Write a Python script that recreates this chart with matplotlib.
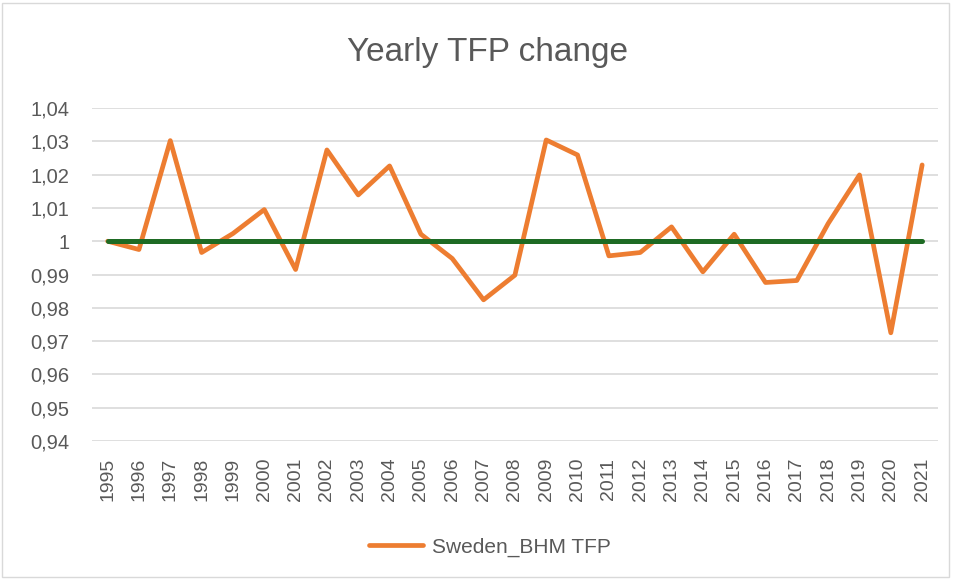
import matplotlib
matplotlib.use("Agg")
import matplotlib.pyplot as plt
from matplotlib.patches import Rectangle
from matplotlib.ticker import FixedLocator, FuncFormatter

years = [str(y) for y in range(1995, 2022)]
tfp = [1.0000, 0.9975, 1.0302, 0.9966, 1.0023, 1.0095, 0.9915, 1.0274, 1.0139,
       1.0226, 1.0021, 0.9948, 0.9824, 0.9898, 1.0304, 1.0259, 0.9956, 0.9966,
       1.0043, 0.9908, 1.0021, 0.9876, 0.9882, 1.0053, 1.0199, 0.9725, 1.0229]
baseline = [1.0] * len(years)
yticks = [0.94, 0.95, 0.96, 0.97, 0.98, 0.99, 1.00, 1.01, 1.02, 1.03, 1.04]

plt.rcParams['font.family'] = ['Liberation Sans', 'DejaVu Sans']
grey = '#595959'

fig = plt.figure(figsize=(9.55, 5.79), dpi=100)
ax = fig.add_axes([0.0963, 0.2383, 0.8857, 0.5752])

x = list(range(len(years)))
ax.plot(x, tfp, color='#ED7D31', lw=3.4, solid_joinstyle='round',
        solid_capstyle='round', label='Sweden_BHM TFP', zorder=3)
ax.plot(x, baseline, color='#1E6B24', lw=3.6, solid_capstyle='round', zorder=4)

ax.set_xlim(-0.5, len(years) - 0.5)
ax.set_ylim(0.94, 1.04)
ax.yaxis.set_major_locator(FixedLocator(yticks))
ax.yaxis.set_major_formatter(FuncFormatter(
    lambda v, p: ('%g' % round(v, 2)).replace('.', ',')))
ax.set_xticks(x)
ax.set_xticklabels(years, rotation=90)
ax.tick_params(axis='both', length=0, labelsize=14, colors=grey)
ax.tick_params(axis='y', labelsize=14.5)
ax.tick_params(axis='x', pad=12)
ax.tick_params(axis='y', pad=16)
ax.grid(axis='y', color='#D9D9D9', lw=1.2)
ax.set_axisbelow(True)
for s in ax.spines.values():
    s.set_visible(False)

fig.text(0.51, 1 - 53 / 579, 'Yearly TFP change', ha='center', va='center',
         fontsize=24, color=grey)

fig.legend(handles=ax.get_lines()[:1], labels=['Sweden_BHM TFP'],
           loc='center', bbox_to_anchor=(0.513, 1 - 547 / 579),
           frameon=False, fontsize=15, labelcolor=grey, handlelength=2.6,
           handletextpad=0.45)

fig.patches.append(Rectangle((0.002, 0.004), 0.992, 0.99, transform=fig.transFigure,
                             fill=False, edgecolor='#D9D9D9', lw=1))

fig.savefig('out.png', dpi=100, facecolor='white')
